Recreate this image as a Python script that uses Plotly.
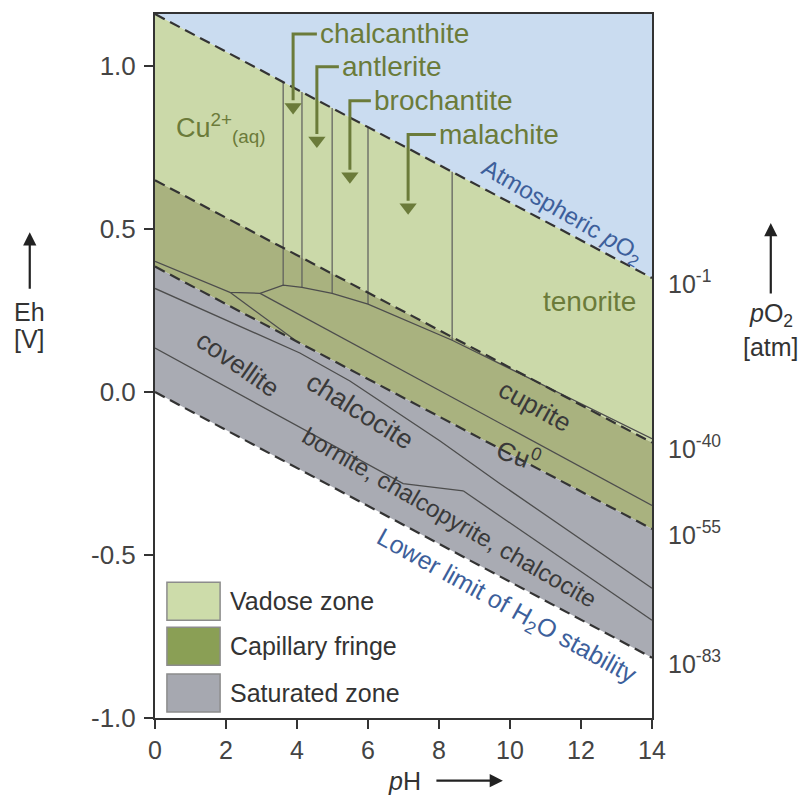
import numpy as np
import plotly.graph_objects as go

# ---------------- data (pH, Eh in V) ----------------
zone_ph = [0, 14]
atm_o2_eh = [1.16, 0.35]        # atmospheric pO2 (upper dashed line)
po2_40_eh = [0.65, -0.155]      # pO2 = 1e-40
po2_55_eh = [0.385, -0.42]      # pO2 = 1e-55
h2o_low_eh = [0.0, -0.815]      # lower limit of H2O stability
eh_top, eh_bottom = 1.16, -1.0

# vertical boundaries chalcanthite / antlerite / brochantite / malachite / tenorite
vert_ph = [3.61, 4.14, 4.99, 6.0, 8.37]

# lower boundary of the Cu2+ / sulfate / carbonate / tenorite fields
p_ph = [0, 2.11, 2.96, 3.61, 4.14, 4.99, 6.0, 8.37, 14]
p_eh = [0.401, 0.306, 0.303, 0.328, 0.321, 0.303, 0.270, 0.159, -0.143]

# capillary-fringe boundaries
c1_ph, c1_eh = [2.11, 3.94], [0.306, 0.160]
c2_ph, c2_eh = [2.96, 14], [0.303, -0.348]

# saturated-zone boundaries
s1_ph = [0, 4.08, 5.49, 8.03, 9.72, 14]
s1_eh = [0.318, 0.120, 0.034, -0.150, -0.281, -0.602]
s2_ph = [0, 6.99, 8.68]
s2_eh = [0.135, -0.281, -0.303]
s3_ph = [8.68, 14]
s3_eh = [-0.303, -0.700]

# arrow labels for the vadose minerals
arrow_names = ["chalcanthite", "antlerite", "brochantite", "malachite"]
arrow_ph = [3.89, 4.56, 5.49, 7.13]
arrow_text_ph = [4.59, 5.21, 6.11, 7.94]
arrow_top_eh = [1.099, 0.998, 0.894, 0.790]
arrow_tip_eh = [0.875, 0.772, 0.662, 0.567]

pO2_labels = ["10<sup>-1</sup>", "10<sup>-40</sup>", "10<sup>-55</sup>", "10<sup>-83</sup>"]
pO2_eh = [atm_o2_eh[1], po2_40_eh[1], po2_55_eh[1], h2o_low_eh[1]]

x_ticks = [0, 2, 4, 6, 8, 10, 12, 14]
y_ticks = [-1.0, -0.5, 0.0, 0.5, 1.0]
y_ticktext = ["-1.0", "-0.5", "0.0", "0.5", "1.0"]

legend_names = ["Vadose zone", "Capillary fringe", "Saturated zone"]

# ---------------- styles ----------------
FONT = "Liberation Sans, Arial, sans-serif"
SKY = "#cadcf0"
VADOSE = "#cbd9a9"
FRINGE = "#a9b27f"
SATUR = "#a9abb3"
LEG_COLORS = ["#cddcaa", "#8a9f55", "#a6a8b0"]
OLIVE = "#6b7b3a"
DARK = "#3a3a3a"
BLUE = "#3d5f9b"
LINE = "#4d4d4d"

fig = go.Figure()


def band(upper, lower, color):
    fig.add_trace(go.Scatter(
        x=zone_ph + zone_ph[::-1], y=upper + lower[::-1],
        fill="toself", fillcolor=color, mode="none",
        hoverinfo="skip", showlegend=False))


band(atm_o2_eh, [eh_top, eh_top], SKY)
band(atm_o2_eh, po2_40_eh, VADOSE)
band(po2_40_eh, po2_55_eh, FRINGE)
band(po2_55_eh, h2o_low_eh, SATUR)


def solid(xs, ys, color=LINE, width=1.3):
    fig.add_trace(go.Scatter(x=xs, y=ys, mode="lines",
                             line=dict(color=color, width=width),
                             hoverinfo="skip", showlegend=False))


# vertical mineral boundaries
v_top = np.interp(vert_ph, zone_ph, atm_o2_eh)
v_bot = np.interp(vert_ph, p_ph, p_eh)
for ph, t, b in zip(vert_ph, v_top, v_bot):
    solid([ph, ph], [t, b], color="#5c5c5c", width=1.2)

solid(p_ph, p_eh)
solid(c1_ph, c1_eh)
solid(c2_ph, c2_eh)
solid(s1_ph, s1_eh)
solid(s2_ph, s2_eh)
solid(s3_ph, s3_eh)

# dashed zone limits
for ys in (atm_o2_eh, po2_40_eh, po2_55_eh, h2o_low_eh):
    fig.add_trace(go.Scatter(x=zone_ph, y=ys, mode="lines",
                             line=dict(color="#333333", width=2.2, dash="11px,6px"),
                             hoverinfo="skip", showlegend=False))

# arrows with leaders
for name, ph, tph, top, tip in zip(arrow_names, arrow_ph, arrow_text_ph,
                                   arrow_top_eh, arrow_tip_eh):
    fig.add_trace(go.Scatter(x=[tph - 0.03, ph, ph], y=[top, top, tip + 0.02],
                             mode="lines", line=dict(color=OLIVE, width=3),
                             hoverinfo="skip", showlegend=False))
    fig.add_trace(go.Scatter(x=[ph], y=[tip], mode="markers",
                             marker=dict(symbol="triangle-down", size=15, color=OLIVE),
                             hoverinfo="skip", showlegend=False))
    fig.add_annotation(x=tph, y=top, text=name, showarrow=False,
                       xanchor="left", yanchor="middle",
                       font=dict(family=FONT, size=28, color=OLIVE))

# field labels
labels = [
    ("Cu<sup>2+</sup><sub>(aq)</sub>", 1.85, 0.81, 0, OLIVE, 27),
    ("tenorite", 12.25, 0.279, 0, OLIVE, 28),
    ("cuprite", 10.7, -0.043, 29, DARK, 26),
    ("Cu<sup>0</sup>", 10.23, -0.19, 20, DARK, 26),
    ("covellite", 2.34, 0.086, 35, DARK, 26),
    ("chalcocite", 5.77, -0.058, 32, DARK, 27),
    ("bornite, chalcopyrite, chalcocite", 8.3, -0.385, 30, DARK, 24),
    ("Atmospheric <i>p</i>O<sub>2</sub>", 11.46, 0.55, 30, BLUE, 24),
    ("Lower limit of H<sub>2</sub>O stability", 9.89, -0.66, 29, BLUE, 25),
]
for txt, x, y, ang, col, sz in labels:
    fig.add_annotation(x=x, y=y, text=txt, showarrow=False, textangle=ang,
                       font=dict(family=FONT, size=sz, color=col))

# right-hand pO2 labels
for txt, y in zip(pO2_labels, pO2_eh):
    fig.add_annotation(xref="paper", x=1.028, y=y, yref="y", text=txt,
                       showarrow=False, xanchor="left", yanchor="middle", yshift=-4,
                       font=dict(family=FONT, size=25, color="#444444"))

# legend keys
leg_y0 = [0.139, 0.075, 0.0085]
for name, col, y0 in zip(legend_names, LEG_COLORS, leg_y0):
    fig.add_shape(type="rect", xref="paper", yref="paper",
                  x0=0.024, x1=0.131, y0=y0, y1=y0 + 0.054,
                  fillcolor=col, line=dict(color="#8c8c8c", width=1.5))
    fig.add_annotation(xref="paper", yref="paper", x=0.147, y=y0 + 0.027,
                       text=name, showarrow=False, xanchor="left", yanchor="middle",
                       font=dict(family=FONT, size=25, color="#333333"))

# axis titles with arrows
title_font = dict(family=FONT, size=25, color="#333333")
fig.add_annotation(xref="paper", yref="paper", x=0.503, y=-0.089, text="<i>p</i>H",
                   showarrow=False, xanchor="center", yanchor="middle", font=title_font)
fig.add_annotation(xref="paper", yref="paper", x=0.70, y=-0.089, ax=-68, ay=0,
                   text="", showarrow=True, arrowhead=2, arrowsize=1.2, arrowwidth=2.2,
                   arrowcolor="#222222")
fig.add_annotation(xref="paper", yref="paper", x=-0.252, y=0.576, text="Eh",
                   showarrow=False, xanchor="center", yanchor="middle", font=title_font)
fig.add_annotation(xref="paper", yref="paper", x=-0.252, y=0.538, text="[V]",
                   showarrow=False, xanchor="center", yanchor="middle", font=title_font)
fig.add_annotation(xref="paper", yref="paper", x=-0.252, y=0.69, ax=0, ay=58,
                   text="", showarrow=True, arrowhead=2, arrowsize=1.2, arrowwidth=2.2,
                   arrowcolor="#222222")
fig.add_annotation(xref="paper", yref="paper", x=1.239, y=0.573,
                   text="<i>p</i>O<sub>2</sub>", showarrow=False, xanchor="center",
                   yanchor="middle", font=title_font)
fig.add_annotation(xref="paper", yref="paper", x=1.239, y=0.527, text="[atm]",
                   showarrow=False, xanchor="center", yanchor="middle", font=title_font)
fig.add_annotation(xref="paper", yref="paper", x=1.239, y=0.703, ax=0, ay=72,
                   text="", showarrow=True, arrowhead=2, arrowsize=1.2, arrowwidth=2.2,
                   arrowcolor="#222222")

fig.update_layout(
    width=807, height=796,
    margin=dict(l=147, r=163, t=4, b=86),
    paper_bgcolor="white", plot_bgcolor="white",
    xaxis=dict(range=[0, 14], tickvals=x_ticks, ticks="outside", ticklen=9,
               tickwidth=2, tickcolor="#333333", showline=True, linecolor="#333333",
               linewidth=2, mirror=True, showgrid=False, zeroline=False,
               tickfont=dict(family=FONT, size=25, color="#444444")),
    yaxis=dict(range=[eh_bottom, eh_top], tickvals=y_ticks, ticktext=y_ticktext,
               ticks="outside", ticklen=9, tickwidth=2, tickcolor="#333333",
               showline=True, linecolor="#333333", linewidth=2, mirror=True,
               showgrid=False, zeroline=False, ticklabelstandoff=3,
               tickfont=dict(family=FONT, size=26, color="#444444")),
    showlegend=False,
)

fig.write_html("out.html")
